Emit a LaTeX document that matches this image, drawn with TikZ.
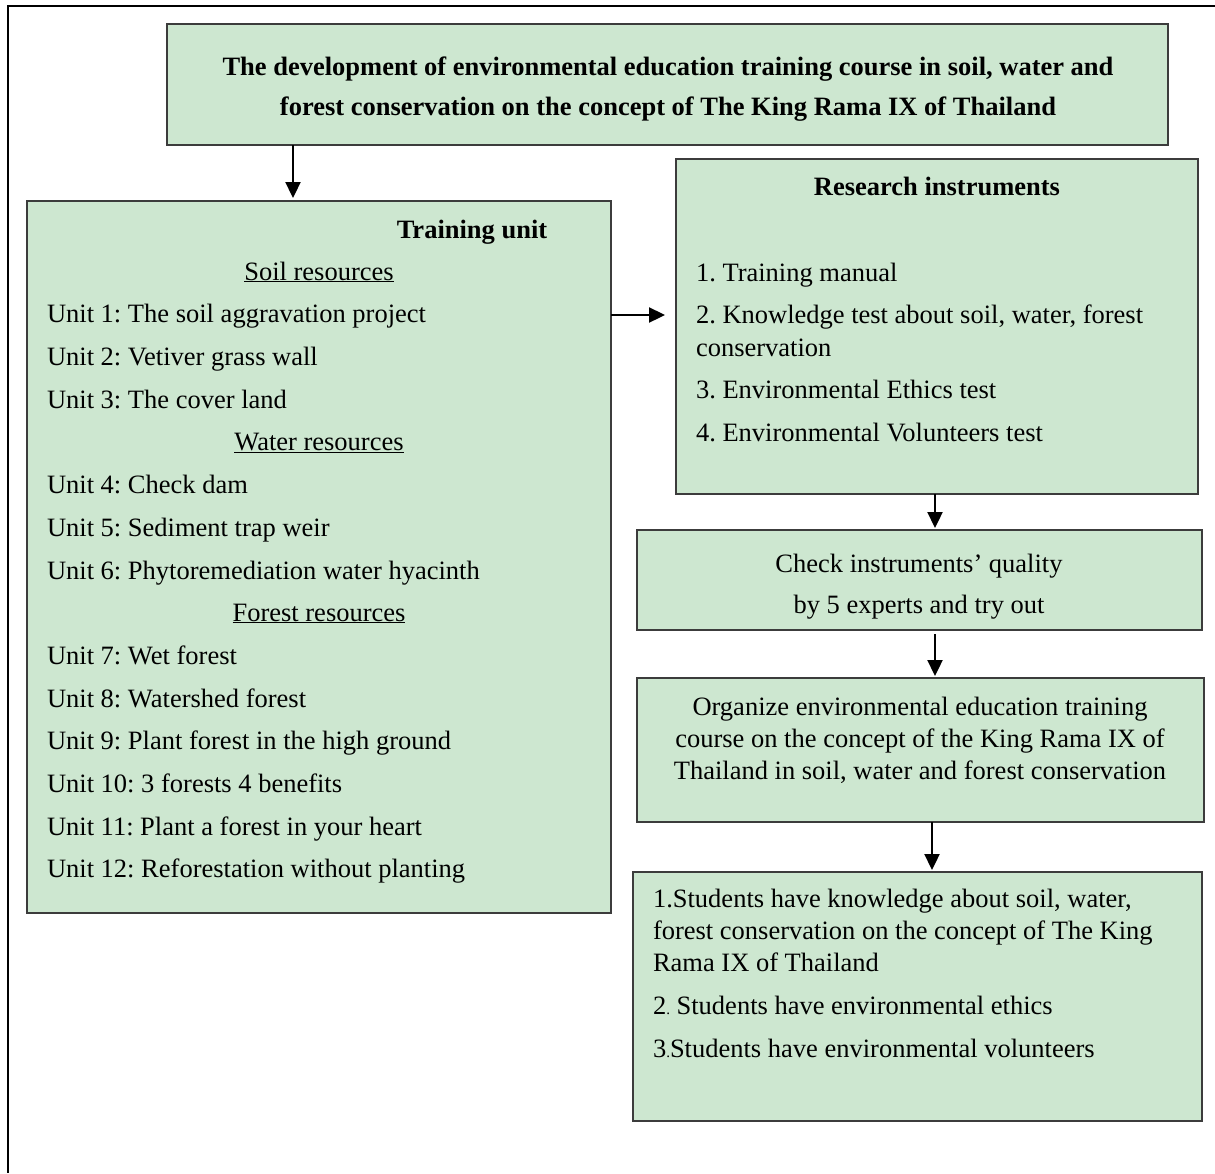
\documentclass[tikz,border=0pt]{standalone}
\usepackage{fontspec}
\setmainfont{Liberation Serif}
\usetikzlibrary{arrows.meta}
\definecolor{boxgreen}{RGB}{205,231,208}
\definecolor{boxline}{RGB}{60,60,60}
\tikzset{
  box/.style={draw=boxline, fill=boxgreen, line width=1.3pt, anchor=north west, inner sep=0pt, outer sep=0pt},
  txt/.style={inner sep=0pt, outer sep=0pt, font=\fontsize{26.5}{30}\selectfont\frenchspacing},
  btxt/.style={inner sep=0pt, outer sep=0pt, font=\fontsize{26.5}{30}\selectfont\bfseries\frenchspacing},
  arr/.style={line width=2.3pt, -{Triangle[length=16pt,width=15pt]}},
}
\begin{document}
\begin{tikzpicture}[x=1pt,y=-1pt]
\useasboundingbox (0,0) rectangle (1215,1173);
% outer frame (open on right/bottom)
\draw[line width=2.8pt] (1215,6) -- (8,6) -- (8,1173);

% boxes
\node[box, minimum width=1001pt, minimum height=121pt] (title) at (167,24) {};
\node[box, minimum width=584pt, minimum height=712pt] (train) at (27,201) {};
\node[box, minimum width=522pt, minimum height=335pt] (res) at (676,159) {};
\node[box, minimum width=565pt, minimum height=100pt] (chk) at (637,530) {};
\node[box, minimum width=567pt, minimum height=144pt] (org) at (637,678) {};
\node[box, minimum width=569pt, minimum height=249pt] (stu) at (633,872) {};

% title text
\node[btxt, anchor=base] (t1) at (668,75) {The development of environmental education training course in soil, water and};
\node[btxt, anchor=base] (t2) at (668,115) {forest conservation on the concept of The King Rama IX of Thailand};

% training unit
\node[btxt, anchor=base] (tu) at (472,238) {Training unit};
\node[txt, anchor=base] (sr) at (319,280) {\underline{Soil resources}};
\node[txt, anchor=base west] (u1) at (47,322) {Unit 1: The soil aggravation project};
\node[txt, anchor=base west] (u2) at (47,365) {Unit 2: Vetiver grass wall};
\node[txt, anchor=base west] (u3) at (47,408) {Unit 3: The cover land};
\node[txt, anchor=base] (wr) at (319,450) {\underline{Water resources}};
\node[txt, anchor=base west] (u4) at (47,493) {Unit 4: Check dam};
\node[txt, anchor=base west] (u5) at (47,536) {Unit 5: Sediment trap weir};
\node[txt, anchor=base west] (u6) at (47,579) {Unit 6: Phytoremediation water hyacinth};
\node[txt, anchor=base] (fr) at (319,621) {\underline{Forest resources}};
\node[txt, anchor=base west] (u7) at (47,664) {Unit 7: Wet forest};
\node[txt, anchor=base west] (u8) at (47,707) {Unit 8: Watershed forest};
\node[txt, anchor=base west] (u9) at (47,749) {Unit 9: Plant forest in the high ground};
\node[txt, anchor=base west] (u10) at (47,792) {Unit 10: 3 forests 4 benefits};
\node[txt, anchor=base west] (u11) at (47,835) {Unit 11: Plant a forest in your heart};
\node[txt, anchor=base west] (u12) at (47,877) {Unit 12: Reforestation without planting};

% research instruments
\node[btxt, anchor=base] (ri) at (937,195) {Research instruments};
\node[txt, anchor=base west] (r1) at (696,281) {1. Training manual};
\node[txt, anchor=base west] (r2) at (696,323) {2. Knowledge test about soil, water, forest};
\node[txt, anchor=base west] (r2b) at (696,356) {conservation};
\node[txt, anchor=base west] (r3) at (696,398) {3. Environmental Ethics test};
\node[txt, anchor=base west] (r4) at (696,441) {4. Environmental Volunteers test};

% check
\node[txt, anchor=base] (c1) at (919,572) {Check instruments’ quality};
\node[txt, anchor=base] (c2) at (919,613) {by 5 experts and try out};

% organize
\node[txt, anchor=base] (o1) at (920,715) {Organize environmental education training};
\node[txt, anchor=base] (o2) at (920,747) {course on the concept of the King Rama IX of};
\node[txt, anchor=base] (o3) at (920,779) {Thailand in soil, water and forest conservation};

% students
\node[txt, anchor=base west] (s1) at (653,907) {1.Students have knowledge about soil, water,};
\node[txt, anchor=base west] (s1b) at (653,939) {forest conservation on the concept of The King};
\node[txt, anchor=base west] (s1c) at (653,971) {Rama IX of Thailand};
\node[txt, anchor=base west] (s2) at (653,1014) {2{\fontsize{15}{16}\selectfont.} Students have environmental ethics};
\node[txt, anchor=base west] (s3) at (653,1057) {3{\fontsize{15}{16}\selectfont.}Students have environmental volunteers};

% connectors
\coordinate (a1) at (293,0);
\coordinate (a2) at (0,315);
\coordinate (a3) at (935,0);
\coordinate (a4) at (932,0);
\coordinate (a5) at (665,0);
\draw[arr] (title.south -| a1) -- ([yshift=3pt]train.north -| a1);
\draw[arr] (train.east |- a2) -- (a5 |- a2);
\draw[arr] (res.south -| a3) -- ([yshift=2pt]chk.north -| a3);
\draw[arr] ([yshift=-4pt]chk.south -| a3) -- ([yshift=2pt]org.north -| a3);
\draw[arr] (org.south -| a4) -- ([yshift=2pt]stu.north -| a4);
\end{tikzpicture}
\end{document}
